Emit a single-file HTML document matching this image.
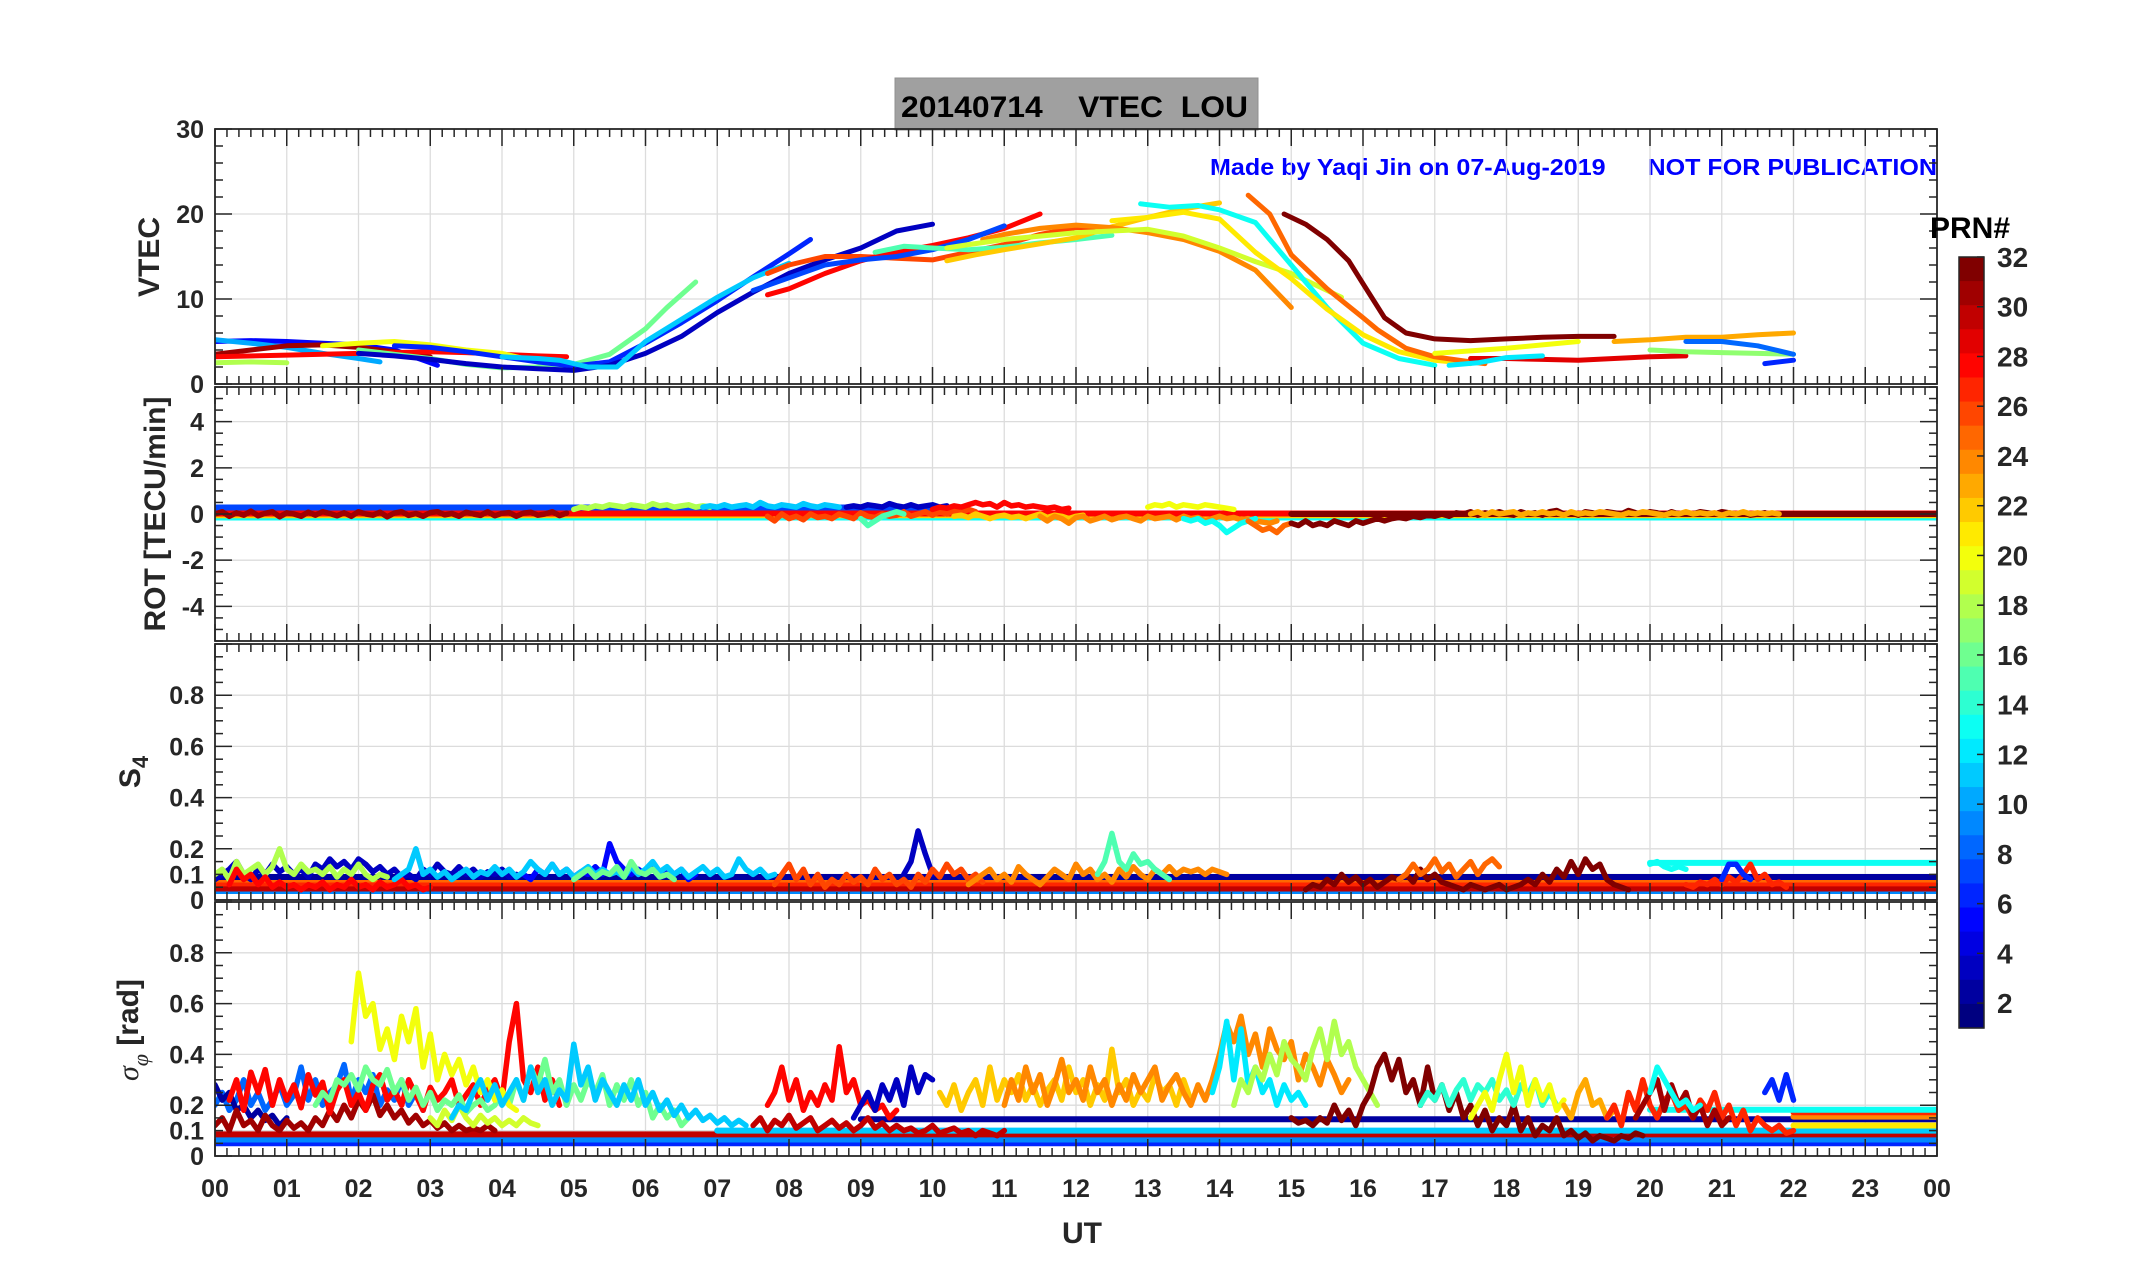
<!DOCTYPE html>
<html><head><meta charset="utf-8"><style>
html,body{margin:0;padding:0;background:#fff;}
svg{display:block;font-family:"Liberation Sans",Arial,sans-serif;}
</style></head>
<body>
<svg id="fig" width="2153" height="1286" viewBox="0 0 2153 1286" xmlns="http://www.w3.org/2000/svg">
<rect x="0" y="0" width="2153" height="1286" fill="#fff"/>
<g>
<rect x="895" y="78" width="363" height="52" fill="#a0a0a0" stroke="#909090"/>
<text x="901" y="117" font-size="30" font-weight="bold" fill="#000" textLength="347" lengthAdjust="spacingAndGlyphs" xml:space="preserve">20140714    VTEC  LOU</text>
</g>
<text x="1210" y="175" font-size="23" font-weight="bold" fill="#0000ff" textLength="727" lengthAdjust="spacingAndGlyphs" xml:space="preserve">Made by Yaqi Jin on 07-Aug-2019      NOT FOR PUBLICATION</text>
<g id="panels"></g>
<g id="cbar"></g>
</svg>
<script>
// ---------- DATA ----------
const vtecPrn = [5,10,18,31,28,20,16,6,3,11,26,28,7,15,22,24,19,13,21,25,32,29,23,17,8,6,12,20];
const vtecHours = [
 [0,0.5,1,1.5,2,2.5,3.1],
 [0,0.5,1,1.5,2,2.3],
 [0,0.5,1.0],
 [0,0.5,1,1.5,2,2.5,3],
 [0,1,2,3,3.5,4,4.5,4.9],
 [1.5,2,2.5,3,3.5,4,4.5],
 [2,2.5,3,3.5,4,4.5,5,5.5,6,6.3,6.7],
 [2.5,3,3.5,4,4.5,5,5.5,6,6.5,7,7.5,8,8.3],
 [2,2.5,3,3.5,4,4.5,5,5.5,6,6.5,7,7.5,8,8.5,9,9.5,10],
 [4,4.5,4.8,5.2,5.6,6,6.5,7,7.5,8],
 [7.7,8,8.5,9,9.5,10,10.5,11,11.5,12,12.5],
 [7.7,8,8.5,9,9.3,10,10.5,11,11.5],
 [7.5,8,8.5,9,9.5,10,10.5,11],
 [9.2,9.6,10,10.5,11,11.5,12,12.5],
 [10.2,10.6,11,11.5,12,12.5,13,13.5,14],
 [10.7,11,11.5,12,12.5,13,13.5,14,14.5,15],
 [10.2,10.5,11,11.5,12,12.5,13,13.5,14,14.5,15,15.7],
 [12.9,13.3,13.7,14,14.5,15,15.5,16,16.5,17],
 [12.5,13,13.5,14,14.5,15,15.5,16,16.5,17,17.5],
 [14.4,14.7,15,15.5,16,16.2,16.6,17,17.5,17.7],
 [14.9,15.2,15.5,15.8,16,16.3,16.6,17,17.5,18,18.5,19,19.5],
 [17.5,18,18.5,19,19.5,20,20.5],
 [19.5,20,20.5,21,21.5,22],
 [20,20.5,21,21.5,22],
 [20.5,21,21.5,22],
 [21.6,22],
 [17.2,17.6,18,18.5],
 [17,17.5,18,18.5,19]
];
const vtecVals = [
 [5.0,5.1,5.0,4.8,4.6,4.0,2.2],
 [5.2,4.8,4.3,3.6,3.0,2.6],
 [2.5,2.6,2.5],
 [3.5,4.0,4.5,4.6,4.3,3.8,3.2],
 [3.2,3.4,3.6,3.8,3.7,3.5,3.3,3.2],
 [4.5,4.8,5.0,4.6,4.0,3.6,2.6],
 [4.0,3.5,3.0,2.3,1.9,2.0,2.3,3.5,6.5,9.0,12.0],
 [4.5,4.3,3.8,3.2,2.6,2.1,2.6,4.8,7.2,9.8,12.6,15.3,17.0],
 [3.6,3.3,2.9,2.4,2.0,1.8,1.6,2.2,3.6,5.6,8.4,10.8,13.0,14.6,16.0,18.0,18.8],
 [3.2,3.0,2.8,2.0,2.0,5.0,7.6,10.2,12.5,14.2],
 [13.0,14.0,15.0,15.0,14.8,14.6,15.5,16.4,17.6,18.4,18.4],
 [10.5,11.2,13.0,14.5,15.2,16.3,17.2,18.3,20.0],
 [11.0,12.5,14.0,14.6,15.0,15.8,17.0,18.6],
 [15.5,16.2,16.0,15.8,16.1,16.6,17.0,17.5],
 [14.5,15.2,15.8,16.5,17.2,18.5,19.6,20.6,21.3],
 [17.0,17.6,18.3,18.7,18.4,17.8,17.0,15.6,13.4,9.0],
 [16.0,16.4,17.0,17.4,17.8,18.0,18.2,17.4,16.0,14.4,13.0,10.2],
 [21.2,20.8,21.0,20.5,19.0,14.0,9.0,4.8,3.0,2.2],
 [19.2,19.6,20.2,19.4,15.5,12.4,8.8,5.8,3.8,2.8,2.4],
 [22.2,20.0,15.2,11.2,7.8,6.4,4.2,3.2,2.6,2.4],
 [20.0,18.8,17.0,14.5,11.8,7.8,6.0,5.3,5.1,5.3,5.5,5.6,5.6],
 [3.0,3.0,2.9,2.8,3.0,3.2,3.3],
 [5.0,5.2,5.5,5.5,5.8,6.0],
 [4.0,3.8,3.7,3.6,3.5],
 [5.0,5.0,4.5,3.5],
 [2.4,2.8],
 [2.2,2.5,3.1,3.3],
 [3.6,3.9,4.2,4.6,5.0]
];

const rotPrn = [31,18,11,3,26,15,28,22,24,20,13,25,32,23];
const rotStart = [0,5,6.8,8.8,7.7,9,10,10.3,11.5,13,13.5,14.4,15,17.5];
const rotVals = [
 [0,0.1,-0.1,0.05,-0.05,0.12,-0.08,0.03,0.1,-0.12,0.05,0,-0.1,0.08,-0.05,0.1,0.02,-0.08,0.05,-0.1,0.1,0,-0.05,0.08,-0.12,0.04,0.1,-0.06,0.02,-0.1,0.06,0.1,-0.04,0.02,-0.1,0.08,0,-0.06,0.1,-0.08,0.03,0.06,-0.1,0.04,0.08,-0.05,0,0.1,-0.07,0.04],
 [0.2,0.3,0.25,0.35,0.3,0.4,0.35,0.3,0.4,0.35,0.3,0.45,0.35,0.4,0.3,0.35,0.4,0.3,0.35,0.3],
 [0.3,0.35,0.3,0.4,0.3,0.35,0.4,0.3,0.5,0.35,0.3,0.4,0.35,0.3,0.45,0.35,0.3,0.4,0.35,0.3],
 [0.3,0.35,0.3,0.4,0.35,0.3,0.45,0.35,0.3,0.4,0.3,0.35,0.4,0.3,0.35],
 [-0.1,-0.3,0,-0.2,-0.1,-0.25,0,-0.15,-0.1,-0.2,0,-0.1,-0.2,0.05,-0.1,-0.15,0,-0.1,-0.05,0.1,-0.1,0,0.1,-0.05,0.1,0,0.15,0.05,0.2,0.1],
 [-0.2,-0.5,-0.3,-0.1,0,0.1,0],
 [0.2,0.3,0.25,0.35,0.3,0.4,0.5,0.4,0.45,0.3,0.5,0.35,0.4,0.3,0.35,0.3,0.25,0.3,0.2,0.25],
 [-0.1,-0.05,-0.15,0,-0.1,-0.2,-0.1,-0.05,-0.15,-0.1,-0.2,-0.1,0,-0.15,-0.05,-0.1,-0.2,-0.1,-0.05],
 [-0.1,-0.3,-0.1,-0.2,-0.4,-0.15,-0.1,-0.3,-0.2,-0.1,-0.25,-0.15,-0.1,-0.2,-0.3,-0.1,-0.2,-0.15,-0.1,-0.25,-0.1,-0.2,-0.15,-0.3,-0.2,-0.1,-0.2,-0.15,-0.25,-0.2,-0.3,-0.35,-0.4,-0.3],
 [0.3,0.4,0.35,0.45,0.3,0.4,0.35,0.3,0.4,0.35,0.3,0.25,0.2],
 [-0.2,-0.3,-0.2,-0.4,-0.3,-0.5,-0.8,-0.6,-0.4,-0.3,-0.2],
 [-0.3,-0.5,-0.7,-0.6,-0.8,-0.5,-0.4],
 [-0.4,-0.5,-0.3,-0.5,-0.4,-0.5,-0.3,-0.4,-0.5,-0.3,-0.4,-0.3,-0.2,-0.3,-0.2,-0.15,-0.2,-0.1,-0.15,-0.05,-0.1,0,-0.1,0.05,0,0.1,-0.05,0.05,0,0.1,0,-0.05,0.1,0,0.05,-0.05,0.1,0.15,0,0.05,-0.05,0.1,0.05,0,0.1,0.05,0,0.15,0.05,0,0.1,0.05,-0.05,0.1,0,0.05,0,0.1,0.05,0,0.1,0.05,0,0.05,-0.05,0,0.05],
 [0,0.1,-0.05,0.1,0,0.05,0.1,-0.05,0.05,0,0.1,0,0.05,-0.05,0.1,0,0.05,0,0.1,0.05,0,-0.05,0.05,0,0.1,0.05,0,-0.05,0.05,0,0.1,0,0.05,0,0.05,-0.05,0.05,0,0.1,0,0.05,0,0.05,0]
];
const rotFlatPrn = [7,5,13,22,28,32];
const rotFlatStart = [0,0,0,0,0,15];
const rotFlatEnd = [10,5,24,24,24,24];
const rotFlatVal = [0.28,-0.1,-0.15,-0.05,0.02,0];

const s4Prn = [3,5,18,28,11,16,3,26,24,15,32,25,13,27,6];
const s4Start = [0,4.3,0,0.2,2.5,5.0,9.6,7.8,10.5,12.3,15.2,16.5,20.0,20.5,21.0];
const s4Vals = [
 [0.08,0.1,0.12,0.15,0.1,0.08,0.12,0.1,0.14,0.11,0.13,0.1,0.12,0.09,0.14,0.12,0.16,0.13,0.15,0.12,0.16,0.14,0.11,0.13,0.1,0.12,0.09,0.1,0.08,0.12,0.1,0.14,0.11,0.1,0.13,0.1,0.12,0.09,0.11,0.1,0.12,0.09,0.1],
 [0.1,0.08,0.12,0.1,0.14,0.1,0.12,0.09,0.11,0.1,0.13,0.1,0.22,0.15,0.12,0.1,0.12,0.1,0.13,0.09,0.11,0.1,0.12,0.08,0.1],
 [0.1,0.12,0.08,0.15,0.1,0.12,0.14,0.1,0.13,0.2,0.12,0.1,0.14,0.11,0.12,0.1,0.13,0.09,0.12,0.1,0.14,0.1,0.08,0.1,0.09],
 [0.06,0.12,0.08,0.1,0.06,0.09,0.05,0.07,0.05,0.06,0.04,0.06,0.05,0.07,0.04,0.06,0.05,0.08,0.05,0.06,0.04,0.07,0.05,0.06,0.08,0.05,0.06,0.04,0.05],
 [0.08,0.1,0.12,0.2,0.1,0.12,0.09,0.11,0.08,0.1,0.12,0.09,0.11,0.1,0.13,0.1,0.12,0.09,0.11,0.15,0.12,0.1,0.14,0.1,0.12,0.09,0.11,0.13,0.1,0.12,0.1,0.11,0.09,0.13,0.1,0.12,0.15,0.11,0.13,0.1,0.12,0.09,0.11,0.13,0.1,0.12,0.09,0.1,0.16,0.12,0.1,0.12,0.09,0.1],
 [0.08,0.1,0.12,0.09,0.11,0.1,0.13,0.09,0.15,0.11,0.1,0.12,0.09,0.1,0.08],
 [0.1,0.15,0.27,0.18,0.1],
 [0.06,0.1,0.14,0.08,0.12,0.06,0.1,0.05,0.08,0.06,0.1,0.07,0.09,0.06,0.12,0.08,0.1,0.06,0.08,0.05,0.1,0.07,0.12,0.09,0.14,0.1,0.12,0.08,0.1,0.07],
 [0.06,0.08,0.1,0.12,0.08,0.1,0.07,0.13,0.1,0.08,0.06,0.09,0.12,0.1,0.08,0.14,0.1,0.12,0.08,0.1,0.07,0.12,0.09,0.13,0.1,0.08,0.12,0.1,0.13,0.1,0.12,0.11,0.12,0.1,0.12,0.11,0.1],
 [0.1,0.15,0.26,0.15,0.12,0.18,0.14,0.15,0.12,0.1,0.08],
 [0.04,0.06,0.05,0.08,0.06,0.1,0.07,0.09,0.06,0.08,0.05,0.07,0.09,0.08,0.1,0.07,0.12,0.08,0.1,0.07,0.06,0.05,0.04,0.06,0.05,0.04,0.05,0.06,0.04,0.05,0.06,0.08,0.06,0.1,0.07,0.12,0.09,0.15,0.1,0.16,0.12,0.14,0.08,0.06,0.05,0.04],
 [0.08,0.1,0.14,0.1,0.12,0.16,0.11,0.14,0.09,0.12,0.15,0.1,0.14,0.16,0.13],
 [0.14,0.15,0.13,0.12,0.13,0.12],
 [0.06,0.05,0.07,0.06,0.08,0.06,0.09,0.07,0.1,0.14,0.08,0.1,0.06,0.07,0.05],
 [0.08,0.14,0.14,0.1,0.08]
];
const s4FlatPrn = [9,30,27,25,2,13];
const s4FlatStart = [0,0,0,0,0,20];
const s4FlatEnd = [24,24,24,24,24,24];
const s4FlatVal = [0.035,0.045,0.065,0.08,0.09,0.145];

const sigPrn = [8,2,31,28,16,20,19,11,30,28,3,22,24,12,18,32,14,20,23,27,31,13,6];
const sigStart = [0,0,0,0.2,1.4,1.9,3.0,3.3,7.5,7.7,8.9,10.1,11.0,13.9,14.2,15.0,16.8,17.5,18.8,19.4,19.8,20.0,21.6];
const sigVals = [
 [0.2,0.25,0.18,0.22,0.3,0.2,0.25,0.18,0.22,0.28,0.2,0.24,0.35,0.22,0.3,0.2,0.25,0.28,0.36,0.22,0.3,0.25,0.32,0.2,0.26,0.22,0.3,0.2,0.25,0.18],
 [0.28,0.22,0.25,0.18,0.2,0.15,0.18,0.14,0.16,0.12,0.15],
 [0.12,0.15,0.1,0.18,0.12,0.14,0.1,0.16,0.12,0.1,0.14,0.11,0.13,0.1,0.15,0.12,0.18,0.14,0.2,0.15,0.22,0.18,0.24,0.16,0.2,0.15,0.18,0.13,0.16,0.12,0.14,0.11,0.13,0.1,0.12,0.1,0.11,0.1,0.12,0.1],
 [0.22,0.3,0.18,0.33,0.25,0.34,0.2,0.3,0.22,0.28,0.19,0.32,0.24,0.29,0.17,0.26,0.3,0.2,0.25,0.18,0.28,0.32,0.22,0.26,0.2,0.3,0.24,0.18,0.27,0.22,0.25,0.3,0.2,0.24,0.28,0.2,0.26,0.3,0.22,0.45,0.6,0.3,0.25,0.35,0.22,0.3,0.2],
 [0.2,0.25,0.22,0.3,0.28,0.32,0.26,0.35,0.3,0.28,0.34,0.25,0.3,0.22,0.27,0.2,0.25,0.18,0.22,0.2,0.24,0.17,0.2,0.22,0.18,0.2,0.25,0.2,0.3,0.22,0.35,0.28,0.38,0.25,0.3,0.2,0.28,0.22,0.3,0.25,0.32,0.2,0.28,0.22,0.3,0.2,0.25,0.15,0.2,0.15,0.18,0.12,0.15],
 [0.45,0.72,0.55,0.6,0.42,0.5,0.38,0.55,0.45,0.58,0.35,0.48,0.3,0.4,0.32,0.38,0.28,0.35,0.25,0.3,0.22,0.26,0.2,0.18],
 [0.15,0.12,0.18,0.14,0.2,0.15,0.12,0.16,0.13,0.15,0.12,0.14,0.12,0.15,0.13,0.12],
 [0.15,0.2,0.18,0.25,0.3,0.22,0.28,0.2,0.25,0.3,0.22,0.35,0.25,0.3,0.2,0.26,0.22,0.44,0.28,0.35,0.22,0.3,0.25,0.2,0.28,0.22,0.3,0.2,0.25,0.18,0.22,0.16,0.2,0.15,0.18,0.14,0.16,0.13,0.15,0.12,0.14,0.12],
 [0.12,0.15,0.1,0.14,0.12,0.16,0.11,0.13,0.15,0.1,0.12,0.14,0.11,0.13,0.1,0.12,0.15,0.11,0.13,0.1,0.12,0.1,0.11,0.09,0.1,0.12,0.09,0.1,0.11,0.09,0.1,0.08,0.1,0.09,0.08,0.1],
 [0.2,0.25,0.35,0.22,0.3,0.18,0.25,0.2,0.28,0.22,0.43,0.25,0.3,0.2,0.22,0.18,0.2,0.15,0.18],
 [0.15,0.2,0.25,0.18,0.28,0.22,0.3,0.2,0.35,0.25,0.32,0.3],
 [0.25,0.2,0.28,0.18,0.25,0.3,0.2,0.35,0.22,0.3,0.25,0.32,0.22,0.28,0.2,0.26,0.3,0.22,0.35,0.25,0.3,0.2,0.28,0.22,0.42,0.25,0.3,0.2,0.26,0.22,0.32,0.25,0.28,0.2,0.3,0.22],
 [0.2,0.3,0.22,0.35,0.25,0.32,0.2,0.28,0.38,0.25,0.3,0.22,0.35,0.25,0.3,0.2,0.28,0.22,0.32,0.25,0.3,0.35,0.22,0.28,0.32,0.25,0.2,0.28,0.22,0.3,0.4,0.52,0.45,0.55,0.4,0.48,0.35,0.5,0.42,0.38,0.45,0.3,0.4,0.35,0.28,0.38,0.32,0.25,0.3],
 [0.25,0.35,0.53,0.3,0.5,0.28,0.35,0.25,0.3,0.2,0.28,0.22,0.25,0.2],
 [0.2,0.3,0.25,0.35,0.3,0.4,0.32,0.45,0.38,0.35,0.3,0.42,0.5,0.38,0.53,0.4,0.45,0.35,0.3,0.25,0.2],
 [0.15,0.13,0.14,0.12,0.15,0.13,0.2,0.14,0.18,0.12,0.2,0.25,0.35,0.4,0.3,0.38,0.25,0.3,0.2,0.35,0.22,0.28,0.18,0.25,0.15,0.2,0.12,0.18,0.1,0.15,0.12,0.2,0.1,0.15,0.08,0.12,0.1,0.15,0.08,0.1,0.07,0.09,0.06,0.08,0.07,0.06,0.08,0.07,0.09,0.08],
 [0.2,0.25,0.22,0.28,0.2,0.26,0.3,0.22,0.28,0.25,0.3,0.22,0.26,0.2,0.28,0.24,0.3,0.2,0.25,0.2],
 [0.15,0.2,0.25,0.18,0.3,0.4,0.25,0.35,0.2,0.3,0.22,0.28,0.18,0.22],
 [0.2,0.15,0.25,0.3,0.2,0.22,0.15,0.18],
 [0.15,0.2,0.12,0.25,0.18,0.3,0.2,0.15,0.22,0.25,0.18,0.2,0.15,0.22,0.18,0.25,0.15,0.2,0.12,0.18,0.1,0.15,0.12,0.1,0.12,0.09,0.1],
 [0.15,0.2,0.25,0.3,0.18,0.28,0.2,0.25,0.15,0.2,0.12,0.18,0.12,0.15],
 [0.25,0.35,0.3,0.25,0.2,0.22,0.18,0.2],
 [0.25,0.3,0.22,0.32,0.22]
];
const sigFlatPrn = [6,9,30,11,21,2,24,27,13];
const sigFlatStart = [0,0,0,7,22,9,22,22,20];
const sigFlatEnd = [24,24,24,24,24,24,24,24,24];
const sigFlatVal = [0.05,0.065,0.085,0.1,0.12,0.145,0.155,0.172,0.182];

const xTickLabels = ["00","01","02","03","04","05","06","07","08","09","10","11","12","13","14","15","16","17","18","19","20","21","22","23","00"];
const cbarTicks = [2,4,6,8,10,12,14,16,18,20,22,24,26,28,30,32];

// ---------- LAYOUT ----------
const NS = "http://www.w3.org/2000/svg";
const X0 = 215, X1 = 1937;
const xs = h => X0 + (X1 - X0) * h / 24;
const clamp = v => Math.max(0, Math.min(1, v));
function jet(p) {
  const v = (p - 1) / 31;
  const r = clamp(Math.min(4*v - 1.5, -4*v + 4.5));
  const g = clamp(Math.min(4*v - 0.5, -4*v + 3.5));
  const b = clamp(Math.min(4*v + 0.5, -4*v + 2.5));
  return `rgb(${Math.round(r*255)},${Math.round(g*255)},${Math.round(b*255)})`;
}
function mk(tag, attrs, parent) {
  const e = document.createElementNS(NS, tag);
  for (const k in attrs) e.setAttribute(k, attrs[k]);
  parent.appendChild(e);
  return e;
}
const root = document.getElementById('panels');
const panels = [
  {key:'vtec', top:129, bot:384, min:0, max:30, major:10, minor:2, labels:[0,10,20,30], fmt:v=>String(v)},
  {key:'rot', top:387, bot:641, min:-5.5, max:5.5, major:2, minor:0.5, labels:[-4,-2,0,2,4], fmt:v=>String(v)},
  {key:'s4', top:644, bot:900, min:0, max:1, major:0.2, minor:0.05, labels:[0,0.1,0.2,0.4,0.6,0.8], fmt:v=>String(v)},
  {key:'sig', top:902, bot:1156, min:0, max:1, major:0.2, minor:0.05, labels:[0,0.1,0.2,0.4,0.6,0.8], fmt:v=>String(v)}
];
panels.forEach((P, pi) => {
  const ys = v => P.bot - (P.bot - P.top) * (v - P.min) / (P.max - P.min);
  P.ys = ys;
  const g = mk('g', {}, root);
  
  
  const grid = mk('g', {stroke:'#dcdcdc', 'stroke-width':1.3}, g);
  
  
  for (let h = 1; h < 24; h++) mk('line', {x1:xs(h), x2:xs(h), y1:P.top, y2:P.bot}, grid);
  const gridVals = [];
  for (let v = Math.ceil(P.min / P.major) * P.major; v <= P.max + 1e-9; v += P.major) gridVals.push(+v.toFixed(3));
  gridVals.forEach(v => { if (v > P.min && v < P.max) mk('line', {x1:X0, x2:X1, y1:ys(v), y2:ys(v)}, grid); });
  if (P.key === 's4' || P.key === 'sig') mk('line', {x1:X0, x2:X1, y1:ys(0.1), y2:ys(0.1)}, grid);
  const cid = 'clip' + pi;
  const cp = mk('clipPath', {id:cid}, g);
  mk('rect', {x:X0, y:P.top, width:X1-X0, height:P.bot-P.top}, cp);
  P.layer = mk('g', {'clip-path':`url(#${cid})`, fill:'none', 'stroke-linejoin':'round', 'stroke-linecap':'round'}, g);
  
  
  const tk = mk('g', {stroke:'#262626', 'stroke-width':1.5}, g);
  for (let m = 0; m <= 144; m++) {
    const x = xs(m / 6), L = (m % 6 === 0) ? 17 : 8;
    mk('line', {x1:x, x2:x, y1:P.top, y2:P.top + L}, tk);
    mk('line', {x1:x, x2:x, y1:P.bot, y2:P.bot - L}, tk);
  }
  const nMin = Math.round((P.max - P.min) / P.minor);
  for (let i = 0; i <= nMin; i++) {
    const v = P.min + i * P.minor;
    const isMaj = Math.abs(v / P.major - Math.round(v / P.major)) < 1e-6;
    const L = isMaj ? 17 : 8, y = ys(v);
    mk('line', {x1:X0, x2:X0 + L, y1:y, y2:y}, tk);
    mk('line', {x1:X1, x2:X1 - L, y1:y, y2:y}, tk);
  }
  P.labels.forEach(v => {
    const t = mk('text', {x:204, y:ys(v) + 9, 'text-anchor':'end', 'font-size':25, 'font-weight':'bold', fill:'#262626'}, g);
    
    
    t.textContent = P.fmt(v);
  });
  const fr = mk('rect', {x:X0, y:P.top, width:X1-X0, height:P.bot-P.top, fill:'none', stroke:'#262626', 'stroke-width':1.8}, g);
  
  
});

function poly(layer, pts, color, w, name) {
  const pl = mk('polyline', {points: pts.map(p => p[0].toFixed(1) + ',' + p[1].toFixed(1)).join(' '), stroke:color, 'stroke-width':w}, layer);
  
  
}
const PV = panels[0];
vtecPrn.forEach((p, i) => {
  poly(PV.layer, vtecHours[i].map((h, j) => [xs(h), PV.ys(vtecVals[i][j])]), jet(p), 5, 'vtec-line-prn' + p);
});
function drawFlat(P, prns, st, en, vals, key) {
  prns.forEach((p, i) => {
    poly(P.layer, [[xs(st[i]), P.ys(vals[i])], [xs(en[i]), P.ys(vals[i])]], jet(p), 6, key + '-flat-prn' + p);
  });
}
function drawNoisy(P, prns, st, vals, key) {
  prns.forEach((p, i) => {
    poly(P.layer, vals[i].map((v, j) => [xs(st[i] + j * 0.1), P.ys(v)]), jet(p), 5.5, key + '-line-prn' + p);
  });
}
drawFlat(panels[1], rotFlatPrn, rotFlatStart, rotFlatEnd, rotFlatVal, 'rot');
drawNoisy(panels[1], rotPrn, rotStart, rotVals, 'rot');
drawFlat(panels[2], s4FlatPrn, s4FlatStart, s4FlatEnd, s4FlatVal, 's4');
drawNoisy(panels[2], s4Prn, s4Start, s4Vals, 's4');
drawFlat(panels[3], sigFlatPrn, sigFlatStart, sigFlatEnd, sigFlatVal, 'sigma');
drawNoisy(panels[3], sigPrn, sigStart, sigVals, 'sigma');

const xl = mk('g', {'font-size':25, 'font-weight':'bold', fill:'#262626', 'text-anchor':'middle'}, root);


xTickLabels.forEach((s, i) => {
  const t = mk('text', {x:xs(i), y:1197}, xl);
  
  
  t.textContent = s;
});
function title(txt, x, y, rot, name, size) {
  const t = mk('text', {x:x, y:y, 'text-anchor':'middle', 'font-size':size || 30, 'font-weight':'bold', fill:'#262626', transform: rot ? `rotate(-90 ${x} ${y})` : ''}, root);
  
  
  t.textContent = txt;
  return t;
}
title('UT', 1082, 1243, false, 'x-axis-title');
title('VTEC', 159, 257, true, 'vtec-y-title');
title('ROT [TECU/min]', 165, 514, true, 'rot-y-title');
const s4t = title('', 140, 772, true, 's4-y-title');
s4t.innerHTML = 'S<tspan font-size="22" dy="8">4</tspan>';
const sgt = mk('text', {x:138, y:1030, 'text-anchor':'middle', 'font-size':30, 'font-weight':'bold', fill:'#262626', transform:'rotate(-90 138 1030)'}, root);


sgt.innerHTML = '<tspan font-style="italic" font-weight="normal" font-family="Liberation Serif, serif">σ</tspan><tspan font-style="italic" font-weight="normal" font-size="22" dy="10" font-family="Liberation Serif, serif">φ</tspan><tspan dy="-10"> [rad]</tspan>';

const cb = document.getElementById('cbar');


const CBX = 1959, CBW = 25, CBT = 257, CBB = 1028;
const cy = v => CBB - (CBB - CBT) * (v - 1) / 31;
for (let i = 0; i < 32; i++) {
  const y0 = CBT + (CBB - CBT) * i / 32;
  const r = mk('rect', {x:CBX, y:y0, width:CBW, height:(CBB - CBT) / 32 + 0.6, fill:jet(32 - i)}, cb);
  
  
}
mk('rect', {x:CBX, y:CBT, width:CBW, height:CBB - CBT, fill:'none', stroke:'#262626', 'stroke-width':1.5}, cb);
cbarTicks.forEach(v => {
  mk('line', {x1:CBX + CBW - 7, x2:CBX + CBW, y1:cy(v), y2:cy(v), stroke:'#262626', 'stroke-width':1.5}, cb);
  const t = mk('text', {x:1997, y:cy(v) + 10, 'font-size':28, 'font-weight':'bold', fill:'#262626'}, cb);
  
  
  t.textContent = String(v);
});
const pt = mk('text', {x:1930, y:238, 'font-size':30, 'font-weight':'bold', fill:'#000'}, cb);


pt.textContent = 'PRN#';
</script>
</body></html>
